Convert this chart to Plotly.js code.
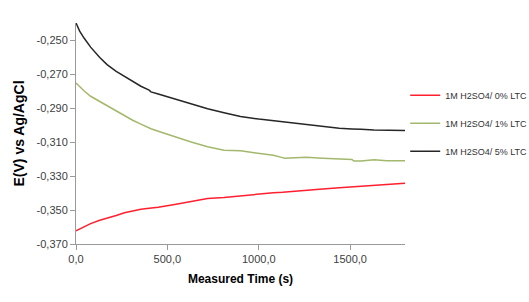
<!DOCTYPE html>
<html>
<head>
<meta charset="utf-8">
<script src="https://cdn.plot.ly/plotly-3.0.1.min.js"></script>
<style>html,body{margin:0;padding:0;background:#fff;}#chart{width:529px;height:302px;}</style>
</head>
<body>
<div id="chart"></div>
<script>
// Measured time (s)
const timeS = [0, 20, 45, 80, 130, 170, 220, 265, 310, 355, 400, 410, 450, 540, 630, 720, 810, 900, 1000, 1080, 1130, 1140, 1200, 1260, 1350, 1440, 1510, 1520, 1560, 1630, 1700, 1800];
// E (V) vs Ag/AgCl
const lt0 = [-0.3622, -0.3612, -0.3600, -0.3580, -0.3560, -0.3549, -0.3532, -0.3516, -0.3505, -0.3496, -0.3490, -0.3489, -0.3484, -0.3467, -0.3451, -0.3432, -0.3427, -0.3416, -0.3407, -0.3398, -0.3395, -0.3394, -0.3388, -0.3382, -0.3376, -0.3369, -0.3364, -0.3363, -0.3360, -0.3353, -0.3349, -0.3343];
const lt1 = [-0.2753, -0.2775, -0.2800, -0.2831, -0.2862, -0.2884, -0.2920, -0.2948, -0.2972, -0.2995, -0.3018, -0.3022, -0.3037, -0.3070, -0.3100, -0.3128, -0.3148, -0.3152, -0.3167, -0.3178, -0.3192, -0.3195, -0.3192, -0.3190, -0.3195, -0.3200, -0.3203, -0.3212, -0.3212, -0.3204, -0.3211, -0.3210];
const lt5 = [-0.2400, -0.2448, -0.2490, -0.2542, -0.2603, -0.2645, -0.2685, -0.2715, -0.2745, -0.2772, -0.2795, -0.2805, -0.2818, -0.2848, -0.2877, -0.2904, -0.2928, -0.2950, -0.2965, -0.2975, -0.2982, -0.2984, -0.2992, -0.2999, -0.3010, -0.3019, -0.3023, -0.3023, -0.3025, -0.3029, -0.3031, -0.3033];
const seriesNames = ["1M H2SO4/ 0% LTC", "1M H2SO4/ 1% LTC", "1M H2SO4/ 5% LTC"];
const yTicks = [-0.370, -0.350, -0.330, -0.310, -0.290, -0.270, -0.250];
const yTickLabels = ["-0,370", "-0,350", "-0,330", "-0,310", "-0,290", "-0,270", "-0,250"];
const xTicks = [0, 500, 1000, 1500];
const xTickLabels = ["0,0", "500,0", "1000,0", "1500,0"];

const colors = ["#ff1f2f", "#a3b86c", "#262626"];
const ys = [lt0, lt1, lt5];
const traces = ys.map((y, i) => ({
  x: timeS, y: y, type: "scatter", mode: "lines", name: seriesNames[i],
  legendgroup: "g" + i,
  line: {color: colors[i], width: 1.5}
}));

const fam = "Liberation Sans, Arial, sans-serif";
const tickFont = {family: fam, size: 11, color: "#404040"};
const layout = {
  width: 529, height: 302,
  margin: {l: 76, r: 124, t: 23, b: 58},
  paper_bgcolor: "#fff", plot_bgcolor: "#fff",
  showlegend: true,
  legend: {
    xref: "container", yref: "container",
    x: 0.766, xanchor: "left", y: 0.592, yanchor: "middle",
    font: {family: fam, size: 9, color: "#333"},
    tracegroupgap: 9, bgcolor: "rgba(0,0,0,0)"
  },
  xaxis: {
    range: [0, 1800], tickvals: xTicks, ticktext: xTickLabels,
    showgrid: false, zeroline: false, showline: true, linecolor: "#9a9a9a", linewidth: 1,
    ticks: "outside", ticklen: 5, tickcolor: "#9a9a9a",
    tickfont: tickFont,
    title: {text: "<b>Measured Time (s)</b>", font: {family: fam, size: 12, color: "#000"}, standoff: 10}
  },
  yaxis: {
    range: [-0.370, -0.240], tickvals: yTicks, ticktext: yTickLabels,
    showgrid: false, zeroline: false, showline: true, linecolor: "#9a9a9a", linewidth: 1,
    ticks: "outside", ticklen: 5, tickcolor: "#9a9a9a",
    tickfont: tickFont,
    title: {text: "<b>E(V) vs Ag/AgCl</b>", font: {family: fam, size: 14, color: "#000"}, standoff: 8}
  }
};
Plotly.newPlot("chart", traces, layout, {displayModeBar: false, staticPlot: true});
</script>
</body>
</html>
